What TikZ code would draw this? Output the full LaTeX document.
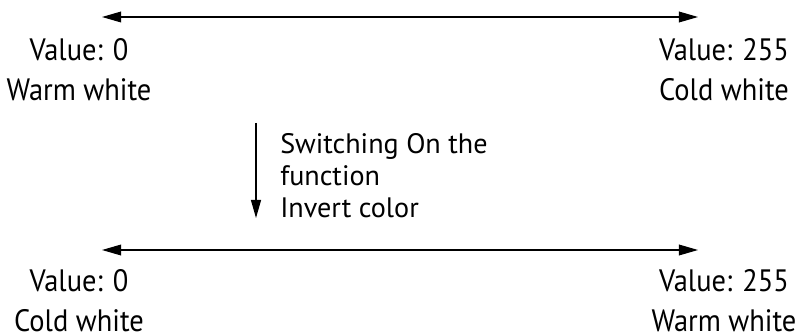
\documentclass[tikz,border=0pt]{standalone}
\usepackage{fontspec}
\setmainfont{PT Sans}
\newfontfamily\narrowsans{PT Sans}[FakeStretch=0.92]
\usetikzlibrary{positioning,arrows.meta}

\begin{document}
\begin{tikzpicture}[x=0.025cm, y=-0.025cm,
    scalelbl/.style={align=center, inner sep=0pt, font=\narrowsans\fontsize{22}{28.5}\selectfont},
    notelbl/.style={align=left, inner sep=0pt, font=\fontsize{20}{22.8}\selectfont},
    tip/.style={line width=0.8pt, {Triangle[length=0.48cm, width=0.27cm]}-{Triangle[length=0.48cm, width=0.27cm]}}]
    \useasboundingbox (0,0) rectangle (800,334);

    \coordinate (top0) at (102,17);
    \coordinate (top1) at (698,17);
    \coordinate (bot0) at (102,250);
    \coordinate (bot1) at (698,250);
    \coordinate (sw0) at (256,123);
    \coordinate (sw1) at (256,218);

    \node[scalelbl, anchor=north] (topmin) at (79,38) {Value: 0\\Warm white};
    \node[scalelbl, anchor=north] (topmax) at (724,38) {Value: 255\\Cold white};
    \node[notelbl, anchor=north west] (note) at (280,133) {Switching On the\\function\\Invert color};
    \node[scalelbl, anchor=north] (botmin) at (79,269) {Value: 0\\Cold white};
    \node[scalelbl, anchor=north] (botmax) at (724,269) {Value: 255\\Warm white};

    \path[tip]
    (top0) edge (top1)
    (bot0) edge (bot1);
    \draw[line width=0.8pt, -{Triangle[length=0.45cm, width=0.25cm]}] (sw0) -- (sw1);
\end{tikzpicture}
\end{document}
